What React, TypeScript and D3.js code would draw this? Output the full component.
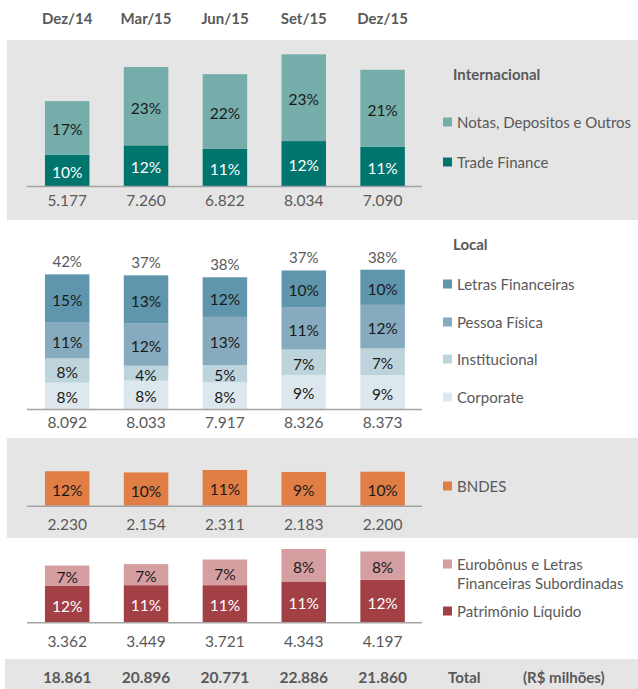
import React, { useRef, useEffect } from "react";
import * as d3 from "d3";

const categories = ["Dez/14", "Mar/15", "Jun/15", "Set/15", "Dez/15"];
const grandTotals = [18861, 20896, 20771, 22886, 21860];

// Internacional (R$ milhões)
const tradeFinance = [1900, 2480, 2260, 2740, 2400];
const notasDepositos = [3277, 4780, 4562, 5294, 4690];
const tradeFinancePct = [10, 12, 11, 12, 11];
const notasPct = [17, 23, 22, 23, 21];
const internacionalTotals = [5177, 7260, 6822, 8034, 7090];

// Local
const corporate = [1580, 1700, 1600, 2050, 2040];
const institucional = [1460, 900, 1045, 1525, 1600];
const pessoaFisica = [2150, 2530, 2890, 2550, 2620];
const letrasFinanceiras = [2902, 2903, 2382, 2201, 2113];
const corporatePct = [8, 8, 8, 9, 9];
const institucionalPct = [8, 4, 5, 7, 7];
const pessoaFisicaPct = [11, 12, 13, 11, 12];
const letrasPct = [15, 13, 12, 10, 10];
const localPct = [42, 37, 38, 37, 38];
const localTotals = [8092, 8033, 7917, 8326, 8373];

// BNDES
const bndes = [2230, 2154, 2311, 2183, 2200];
const bndesPct = [12, 10, 11, 9, 10];

// Patrimônio / subordinadas
const patrimonio = [2150, 2200, 2200, 2420, 2520];
const eurobonus = [1212, 1249, 1521, 1923, 1677];
const patrimonioPct = [12, 11, 11, 11, 12];
const eurobonusPct = [7, 7, 7, 8, 8];
const subordTotals = [3362, 3449, 3721, 4343, 4197];

interface Series {
  name: string[];
  values: number[];
  pcts: number[];
  color: string;
  textColor: string;
  legendY: number;
}

interface Panel {
  series: Series[];
  totals: number[];
  topPct?: number[];
  title?: string;
  titleY?: number;
  bg: boolean;
  y0: number;
  y1: number;
  baseline: number;
  maxH: number;
  valueY: number;
}

const panels: Panel[] = [
  {
    series: [
      { name: ["Trade Finance"], values: tradeFinance, pcts: tradeFinancePct, color: "#00756d", textColor: "#ffffff", legendY: 162 },
      { name: ["Notas, Depositos e Outros"], values: notasDepositos, pcts: notasPct, color: "#75adaa", textColor: "#1a1a1a", legendY: 122 },
    ],
    totals: internacionalTotals,
    title: "Internacional",
    titleY: 74,
    bg: true,
    y0: 40,
    y1: 220,
    baseline: 186,
    maxH: 131.7,
    valueY: 200,
  },
  {
    series: [
      { name: ["Corporate"], values: corporate, pcts: corporatePct, color: "#dde8ee", textColor: "#1a1a1a", legendY: 397 },
      { name: ["Institucional"], values: institucional, pcts: institucionalPct, color: "#bed4dd", textColor: "#1a1a1a", legendY: 359 },
      { name: ["Pessoa Física"], values: pessoaFisica, pcts: pessoaFisicaPct, color: "#86abbe", textColor: "#1a1a1a", legendY: 322 },
      { name: ["Letras Financeiras"], values: letrasFinanceiras, pcts: letrasPct, color: "#5f96ad", textColor: "#1a1a1a", legendY: 284 },
    ],
    totals: localTotals,
    topPct: localPct,
    title: "Local",
    titleY: 244,
    bg: false,
    y0: 220,
    y1: 438,
    baseline: 409,
    maxH: 139.3,
    valueY: 422,
  },
  {
    series: [
      { name: ["BNDES"], values: bndes, pcts: bndesPct, color: "#e07e45", textColor: "#1a1a1a", legendY: 486 },
    ],
    totals: bndes,
    bg: true,
    y0: 438,
    y1: 538,
    baseline: 505.7,
    maxH: 35.7,
    valueY: 524,
  },
  {
    series: [
      { name: ["Patrimônio Líquido"], values: patrimonio, pcts: patrimonioPct, color: "#a24046", textColor: "#ffffff", legendY: 611 },
      { name: ["Eurobônus e Letras", "Financeiras Subordinadas"], values: eurobonus, pcts: eurobonusPct, color: "#d59fa2", textColor: "#1a1a1a", legendY: 564 },
    ],
    totals: subordTotals,
    bg: false,
    y0: 538,
    y1: 659,
    baseline: 622.3,
    maxH: 73.3,
    valueY: 641,
  },
];

const WIDTH = 638;
const HEIGHT = 689;
const FONT = "Lato, 'Open Sans', sans-serif";
const GRAY_TEXT = "#595959";
const BG = "#e5e5e5";

const ptBR = d3.formatLocale({
  decimal: ",",
  thousands: ".",
  grouping: [3],
  currency: ["R$", ""],
});
const fmt = ptBR.format(",");

function drawChart(svgEl: SVGSVGElement) {
  const svg = d3.select(svgEl);
  svg.selectAll("*").remove();

  const x = d3.scalePoint<string>().domain(categories).range([67.2, 382.6]);
  const barW = 44.5;

  // header
  svg
    .append("g")
    .selectAll("text")
    .data(categories)
    .enter()
    .append("text")
    .attr("x", (d) => x(d) as number)
    .attr("y", 18)
    .attr("text-anchor", "middle")
    .attr("dominant-baseline", "central")
    .style("font-family", FONT)
    .style("font-weight", "bold")
    .style("font-size", "15px")
    .style("fill", GRAY_TEXT)
    .text((d) => d);

  for (const p of panels) {
    const g = svg.append("g");
    if (p.bg) {
      g.append("rect")
        .attr("x", 7)
        .attr("y", p.y0)
        .attr("width", WIDTH - 7)
        .attr("height", p.y1 - p.y0)
        .style("fill", BG);
    }

    const y = d3
      .scaleLinear()
      .domain([0, d3.max(p.totals) as number])
      .range([p.baseline, p.baseline - p.maxH]);

    const rows = categories.map((c, i) => {
      const row: Record<string, number | string> = { cat: c };
      p.series.forEach((s, k) => (row["s" + k] = s.values[i]));
      return row;
    });
    const stack = d3
      .stack<Record<string, number | string>>()
      .keys(p.series.map((_, k) => "s" + k))
      .value((d, key) => d[key] as number);
    const layers = stack(rows);

    layers.forEach((layer, k) => {
      const s = p.series[k];
      const lg = g.append("g");
      lg.selectAll("rect")
        .data(layer)
        .enter()
        .append("rect")
        .attr("x", (d) => (x(d.data.cat as string) as number) - barW / 2)
        .attr("y", (d) => y(d[1]))
        .attr("width", barW)
        .attr("height", (d) => y(d[0]) - y(d[1]))
        .style("fill", s.color);
      lg.selectAll("text")
        .data(layer)
        .enter()
        .append("text")
        .attr("x", (d) => x(d.data.cat as string) as number)
        .attr("y", (d) => (y(d[0]) + y(d[1])) / 2 + 1.5)
        .attr("text-anchor", "middle")
        .attr("dominant-baseline", "central")
        .style("font-family", FONT)
        .style("font-size", "15.5px")
        .style("fill", s.textColor)
        .text((_, i) => s.pcts[i] + "%");

      // legend
      const sq = 9;
      const firstY = s.legendY;
      g.append("rect")
        .attr("x", 443)
        .attr("y", firstY - sq / 2)
        .attr("width", sq)
        .attr("height", sq)
        .style("fill", s.color);
      g.append("text")
        .attr("x", 457)
        .attr("y", firstY)
        .attr("dominant-baseline", "central")
        .style("font-family", FONT)
        .style("font-size", "15px")
        .style("fill", GRAY_TEXT)
        .selectAll("tspan")
        .data(s.name)
        .enter()
        .append("tspan")
        .attr("x", 457)
        .attr("dy", (_, i) => (i === 0 ? 0 : 19))
        .text((d) => d);
    });

    // top percentage labels
    if (p.topPct) {
      const top = layers[layers.length - 1];
      g.append("g")
        .selectAll("text")
        .data(top)
        .enter()
        .append("text")
        .attr("x", (d) => x(d.data.cat as string) as number)
        .attr("y", (d) => y(d[1]) - 13)
        .attr("text-anchor", "middle")
        .attr("dominant-baseline", "central")
        .style("font-family", FONT)
        .style("font-size", "15px")
        .style("fill", GRAY_TEXT)
        .text((_, i) => p.topPct![i] + "%");
    }

    // baseline
    g.append("line")
      .attr("x1", 27)
      .attr("x2", 422)
      .attr("y1", p.baseline + 0.5)
      .attr("y2", p.baseline + 0.5)
      .style("stroke", "#a3a3a3")
      .style("stroke-width", 1.5);

    // totals under bars
    g.append("g")
      .selectAll("text")
      .data(p.totals)
      .enter()
      .append("text")
      .attr("x", (_, i) => x(categories[i]) as number)
      .attr("y", p.valueY)
      .attr("text-anchor", "middle")
      .attr("dominant-baseline", "central")
      .style("font-family", FONT)
      .style("font-size", "15.5px")
      .style("fill", GRAY_TEXT)
      .text((d) => fmt(d));

    if (p.title) {
      g.append("text")
        .attr("x", 453)
        .attr("y", p.titleY as number)
        .attr("dominant-baseline", "central")
        .style("font-family", FONT)
        .style("font-weight", "bold")
        .style("font-size", "15px")
        .style("fill", GRAY_TEXT)
        .text(p.title);
    }
  }

  // total row
  const tg = svg.append("g");
  tg.append("rect")
    .attr("x", 5)
    .attr("y", 659)
    .attr("width", WIDTH - 5)
    .attr("height", HEIGHT - 659)
    .style("fill", BG);
  tg.selectAll("text.tot")
    .data(grandTotals)
    .enter()
    .append("text")
    .attr("class", "tot")
    .attr("x", (_, i) => x(categories[i]) as number)
    .attr("y", 677)
    .attr("text-anchor", "middle")
    .attr("dominant-baseline", "central")
    .style("font-family", FONT)
    .style("font-weight", "bold")
    .style("font-size", "15.5px")
    .style("fill", GRAY_TEXT)
    .text((d) => fmt(d));
  tg.selectAll("text.lbl")
    .data([
      { t: "Total", x: 448 },
      { t: "(R$ milhões)", x: 523 },
    ])
    .enter()
    .append("text")
    .attr("class", "lbl")
    .attr("x", (d) => d.x)
    .attr("y", 677)
    .attr("dominant-baseline", "central")
    .style("font-family", FONT)
    .style("font-weight", "bold")
    .style("font-size", "15px")
    .style("fill", GRAY_TEXT)
    .text((d) => d.t);
}

const App: React.FunctionComponent = function () {
  const svgRef = useRef<SVGSVGElement>(null);

  useEffect(() => {
    if (svgRef.current == null) {
      return;
    }
    drawChart(svgRef.current);
  }, []);

  return (
    <svg
      ref={svgRef}
      width={WIDTH}
      height={HEIGHT}
      style={{ position: "absolute", left: 0, top: 0, background: "#ffffff" }}
    />
  );
};

export default App;
